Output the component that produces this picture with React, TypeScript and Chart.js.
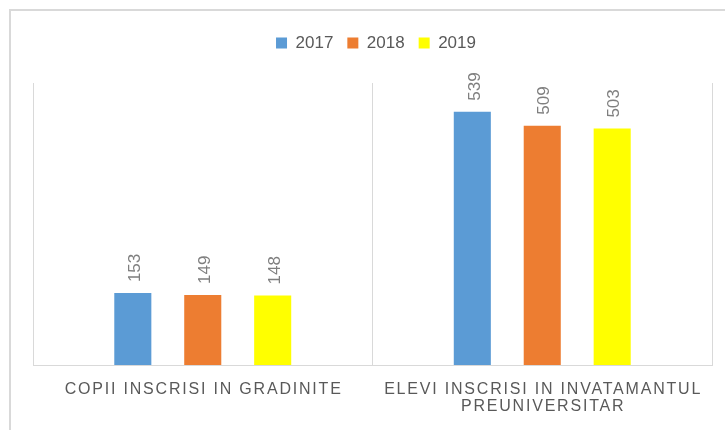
import React, { useEffect, useRef } from "react";
import { Chart, registerables } from "chart.js";

Chart.register(...registerables);

const categories: string[][] = [
  ["COPII INSCRISI IN GRADINITE"],
  ["ELEVI INSCRISI IN INVATAMANTUL", "PREUNIVERSITAR"],
];
const seriesNames = ["2017", "2018", "2019"];
const values2017 = [153, 539];
const values2018 = [149, 509];
const values2019 = [148, 503];
const seriesColors = ["#5B9BD5", "#ED7D31", "#FFFF00"];

const FONT = '"Liberation Sans", Arial, sans-serif';

const xLabelPlugin = {
  id: "xLabelsSpaced",
  afterDraw(chart: any) {
    const ctx = chart.ctx as CanvasRenderingContext2D;
    const xs = chart.scales.x;
    const bottom = chart.chartArea.bottom;
    ctx.save();
    ctx.font = `16px ${FONT}`;
    ctx.fillStyle = "#595959";
    ctx.textAlign = "center";
    ctx.textBaseline = "alphabetic";
    (ctx as any).letterSpacing = "1.8px";
    categories.forEach((lines, i) => {
      const x = xs.getPixelForTick(i);
      lines.forEach((line, j) => {
        ctx.fillText(line, x + 0.9, bottom + 29 + j * 17);
      });
    });
    ctx.restore();
  },
};

const dataLabelPlugin = {
  id: "rotatedDataLabels",
  afterDatasetsDraw(chart: any) {
    const ctx = chart.ctx as CanvasRenderingContext2D;
    ctx.save();
    ctx.font = `17px ${FONT}`;
    ctx.fillStyle = "#7F7F7F";
    ctx.textAlign = "left";
    ctx.textBaseline = "middle";
    chart.data.datasets.forEach((ds: any, di: number) => {
      const meta = chart.getDatasetMeta(di);
      meta.data.forEach((el: any, i: number) => {
        const { x, y } = el.getProps(["x", "y"], true);
        ctx.save();
        ctx.translate(x + 2.5, y - 11);
        ctx.rotate(-Math.PI / 2);
        ctx.fillText(String(ds.data[i]), 0, 0);
        ctx.restore();
      });
    });
    ctx.restore();
  },
};

export default function App() {
  const canvasRef = useRef<HTMLCanvasElement | null>(null);

  useEffect(() => {
    document.documentElement.style.overflow = "hidden";
    document.body.style.background = "#FFFFFF";
    if (!canvasRef.current) return;
    const seriesValues = [values2017, values2018, values2019];
    const chart = new Chart(canvasRef.current, {
      type: "bar",
      data: {
        labels: categories,
        datasets: seriesNames.map((name, i) => ({
          label: name,
          data: seriesValues[i],
          backgroundColor: seriesColors[i],
          borderWidth: 0,
          categoryPercentage: 0.618,
          barPercentage: 0.53,
        })),
      },
      options: {
        responsive: false,
        animation: false,
        events: [],
        layout: { padding: { top: 9.5, left: 22, right: 6, bottom: 65 } },
        plugins: {
          tooltip: { enabled: false },
          legend: {
            position: "top",
            labels: {
              boxWidth: 11,
              boxHeight: 11,
              padding: 14,
              color: "#595959",
              font: { size: 17, family: FONT },
            },
          },
        },
        scales: {
          x: {
            type: "category",
            position: "bottom",
            offset: true,
            grid: {
              display: true,
              offset: true,
              color: "#D9D9D9",
              lineWidth: 1,
              drawTicks: false,
            },
            border: { display: true, color: "#D9D9D9", width: 1 },
            ticks: { display: false },
          },
          xTop: {
            type: "category",
            position: "top",
            display: true,
            grid: { display: false },
            border: { display: false },
            ticks: { display: false },
            afterFit: (s: any) => {
              s.height = 21.5;
            },
          },
          y: {
            display: false,
            min: 0,
            max: 600,
          },
          yRight: {
            type: "linear",
            position: "right",
            display: true,
            grid: { display: false },
            border: { display: false },
            ticks: { display: false },
            afterFit: (s: any) => {
              s.width = 7;
            },
          },
        },
      },
      plugins: [dataLabelPlugin, xLabelPlugin],
    });
    return () => chart.destroy();
  }, []);

  return (
    <div
      style={{
        position: "fixed",
        left: 9,
        top: 9,
        width: 714,
        height: 421,
        borderLeft: "2px solid #D9D9D9",
        borderTop: "2px solid #D9D9D9",
        background: "#FFFFFF",
        overflow: "hidden",
      }}
    >
      <canvas ref={canvasRef} width={714} height={419} style={{ display: "block" }} />
    </div>
  );
}
